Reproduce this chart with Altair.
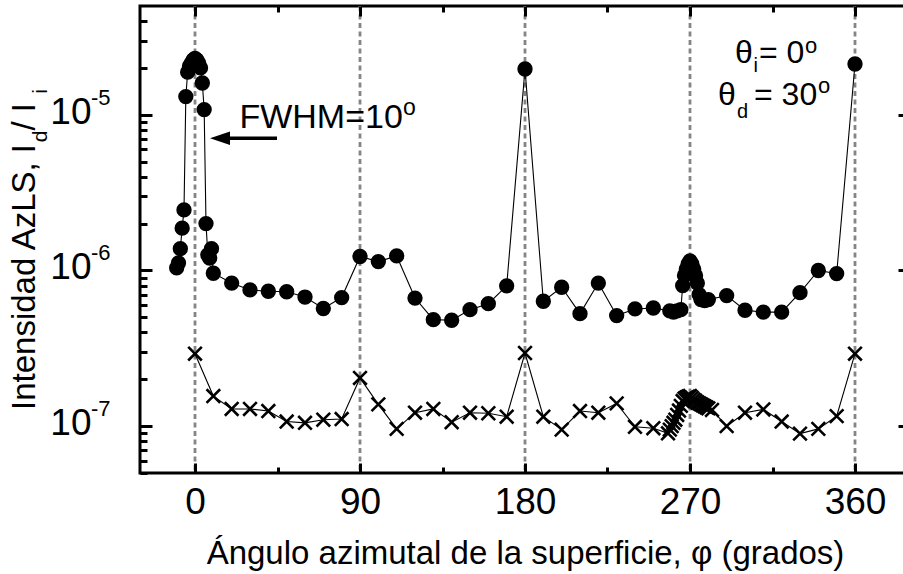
import altair as alt
import pandas as pd

# ---------------- data ----------------
circ_phi = [-10, -9, -8, -7, -6, -5, -4, -3, -2, -1, 0, 1, 2, 3, 4, 5, 6, 7, 8, 9, 10,
            20, 30, 40, 50, 60, 70, 80, 90, 100, 110, 120, 130, 140, 150, 160, 170,
            180, 190, 200, 210, 220, 230, 240, 250,
            259, 261, 263, 265, 266, 267, 268, 269, 270, 271, 272, 273, 274, 275, 276, 278, 280,
            290, 300, 310, 320, 330, 340, 350, 360]
circ_int = [1.04e-6, 1.12e-6, 1.38e-6, 1.87e-6, 2.45e-6, 1.31e-5, 1.88e-5, 2.05e-5, 2.15e-5, 2.25e-5,
            2.3e-5, 2.25e-5, 2.15e-5, 2.0e-5, 1.6e-5, 1.08e-5, 2.0e-6, 1.26e-6, 1.2e-6, 1.38e-6, 9.6e-7,
            8.3e-7, 7.5e-7, 7.35e-7, 7.3e-7, 6.75e-7, 5.7e-7, 6.7e-7, 1.23e-6, 1.14e-6, 1.24e-6,
            6.65e-7, 4.83e-7, 4.79e-7, 5.6e-7, 6.12e-7, 7.97e-7,
            1.97e-5, 6.34e-7, 7.8e-7, 5.28e-7, 8.3e-7, 5.13e-7, 5.66e-7, 5.74e-7,
            5.5e-7, 5.4e-7, 5.5e-7, 5.6e-7, 8.0e-7, 9.3e-7, 1.02e-6, 1.1e-6, 1.15e-6, 1.1e-6,
            1.02e-6, 9.3e-7, 8.3e-7, 7.0e-7, 6.5e-7, 6.4e-7, 6.5e-7,
            6.9e-7, 5.55e-7, 5.4e-7, 5.4e-7, 7.2e-7, 1.0e-6, 9.55e-7, 2.12e-5]

cross_phi = [0, 10, 20, 30, 40, 50, 60, 70, 80, 90, 100, 110, 120, 130, 140, 150, 160, 170,
             180, 190, 200, 210, 220, 230, 240, 250,
             258, 259, 260, 261, 262, 263, 264, 265, 266, 267, 268, 269, 270, 271, 272, 273,
             274, 275, 276, 277, 278, 279, 280, 282,
             290, 300, 310, 320, 330, 340, 350, 360]
cross_int = [2.92e-7, 1.56e-7, 1.29e-7, 1.29e-7, 1.25e-7, 1.07e-7, 1.05e-7, 1.1e-7, 1.11e-7,
             2.04e-7, 1.38e-7, 9.6e-8, 1.22e-7, 1.29e-7, 1.06e-7, 1.22e-7, 1.21e-7, 1.15e-7,
             2.95e-7, 1.15e-7, 9.5e-8, 1.25e-7, 1.22e-7, 1.4e-7, 9.9e-8, 9.7e-8,
             9.0e-8, 9.5e-8, 1.0e-7, 1.05e-7, 1.1e-7, 1.18e-7, 1.26e-7, 1.35e-7, 1.45e-7,
             1.5e-7, 1.53e-7, 1.55e-7, 1.56e-7, 1.52e-7, 1.48e-7, 1.45e-7,
             1.42e-7, 1.4e-7, 1.38e-7, 1.36e-7, 1.34e-7, 1.32e-7, 1.3e-7, 1.27e-7,
             1.0e-7, 1.22e-7, 1.28e-7, 1.07e-7, 8.95e-8, 9.6e-8, 1.16e-7, 2.92e-7]

guide_phi = [0, 90, 180, 270, 360]
x_major = [0, 90, 180, 270, 360]
x_minor = [45, 135, 225, 315]
y_major = [1e-7, 1e-6, 1e-5]
y_minor = [5e-8, 6e-8, 7e-8, 8e-8, 9e-8,
           2e-7, 3e-7, 4e-7, 5e-7, 6e-7, 7e-7, 8e-7, 9e-7,
           2e-6, 3e-6, 4e-6, 5e-6, 6e-6, 7e-6, 8e-6, 9e-6,
           2e-5, 3e-5, 4e-5]
y_label_exp = ["-7", "-6", "-5"]

x_title = "Ángulo azimutal de la superficie, φ (grados)"

# ---------------- layout ----------------
W, H = 770, 467
FONT = "Liberation Sans, Arial, Helvetica, sans-serif"

xscale = alt.Scale(domain=[-30, 390], nice=False, zero=False)
yscale = alt.Scale(type="log", domain=[5e-8, 5e-5], nice=False)

df_c = pd.DataFrame({"phi": circ_phi, "I": circ_int})
df_x = pd.DataFrame({"phi": cross_phi, "I": cross_int})
df_g = pd.DataFrame({"phi": guide_phi})
df_yl = pd.DataFrame({"v": y_major, "exp": y_label_exp})


def tick_axis(orient, offset, values, size):
    return alt.Axis(orient=orient, offset=offset, values=values, tickSize=size,
                    tickWidth=3, tickColor="black", labels=False, domain=False,
                    grid=False, title=None, zindex=1)


guides = alt.Chart(df_g).mark_rule(color="#858585", strokeWidth=2.8, strokeDash=[5, 3.5]).encode(
    x=alt.X("phi:Q", scale=xscale,
            axis=alt.Axis(orient="bottom", values=x_major, tickSize=0, domain=False, grid=False,
                          labelFont=FONT, labelFontSize=37, labelColor="black", labelPadding=11,
                          labelFlush=False, labelOverlap=False,
                          title=x_title, titleFont=FONT, titleFontSize=33, titleFontWeight="normal",
                          titleColor="black", titleBaseline="alphabetic", titleY=90))
)

circ_line = alt.Chart(df_c).mark_line(color="black", strokeWidth=1.1).encode(
    x=alt.X("phi:Q", scale=xscale, axis=tick_axis("top", -H, x_major, 10)),
    y=alt.Y("I:Q", scale=yscale, axis=tick_axis("right", -W, y_major, 12)),
)
circ_pts = alt.Chart(df_c).mark_point(shape="circle", filled=True, size=235, color="black",
                                      opacity=1, strokeWidth=0).encode(
    x=alt.X("phi:Q", scale=xscale, axis=tick_axis("top", -H, x_minor, 6)),
    y=alt.Y("I:Q", scale=yscale, axis=tick_axis("right", -W, y_minor, 7)),
)
cross_line = alt.Chart(df_x).mark_line(color="black", strokeWidth=1.1).encode(
    x=alt.X("phi:Q", scale=xscale, axis=tick_axis("bottom", -H, x_major, 10)),
    y=alt.Y("I:Q", scale=yscale, axis=tick_axis("left", -W, y_major, 12)),
)
cross_pts = alt.Chart(df_x).mark_point(shape="M-1,-1L1,1M-1,1L1,-1", filled=False, size=185,
                                       color="black", opacity=1, strokeWidth=2.6).encode(
    x=alt.X("phi:Q", scale=xscale, axis=tick_axis("bottom", -H, x_minor, 6)),
    y=alt.Y("I:Q", scale=yscale, axis=tick_axis("left", -W, y_minor, 7)),
)

ylab_base = alt.Chart(df_yl).mark_text(text="10", font=FONT, fontSize=37, align="right",
                                       baseline="alphabetic", dy=9, color="black").encode(
    y=alt.Y("v:Q", scale=yscale, axis=None), x=alt.value(-48.5))
ylab_exp = alt.Chart(df_yl).mark_text(font=FONT, fontSize=22, align="left",
                                      baseline="alphabetic", dy=-10, color="black").encode(
    y=alt.Y("v:Q", scale=yscale, axis=None), x=alt.value(-49), text="exp:N")


def txt(s, x, y, size, angle=0):
    return alt.Chart(pd.DataFrame({"t": [s]})).mark_text(
        font=FONT, fontSize=size, align="left", baseline="alphabetic", angle=angle,
        color="black").encode(x=alt.value(x), y=alt.value(y), text="t:N")


annots = [
    # y-axis title (rotated, with subscripts)
    txt("Intensidad AzLS, I", -105, 404, 33, 270),
    txt("d", -93, 136.2, 21, 270),
    txt(" / I", -105, 124.5, 33, 270),
    txt("i", -93, 87.8, 21, 270),
    # FWHM annotation
    txt("FWHM=10", 99.4, 122.3, 34),
    txt("o", 263, 109, 23),
    # theta labels
    txt("θ", 595, 57, 32), txt("i", 613.5, 66, 20), txt("= 0", 619, 57, 32), txt("o", 665, 47, 22),
    txt("θ", 578, 99, 32), txt("d", 597, 112, 20), txt("= 30", 614, 99, 32), txt("o", 678, 87, 22),
]

arrow_line = alt.Chart(pd.DataFrame({"a": [0]})).mark_rule(color="black", strokeWidth=3.5).encode(
    x=alt.value(82), x2=alt.value(137), y=alt.value(132.3))
arrow_head = alt.Chart(pd.DataFrame({"a": [0]})).mark_point(
    shape="M0,0L2,-0.67L2,0.67Z", filled=True, size=400, color="black", opacity=1, strokeWidth=0
).encode(x=alt.value(70), y=alt.value(132.3))

chart = alt.layer(
    guides, circ_line, cross_line, circ_pts, cross_pts, ylab_base, ylab_exp,
    arrow_line, arrow_head, *annots
).resolve_axis(x="independent", y="independent").properties(
    width=W, height=H,
    padding={"left": 140, "top": 6, "right": -7, "bottom": 101},
    autosize=alt.AutoSizeParams(type="none"),
    background="white",
).configure_view(stroke="black", strokeWidth=3)

chart.save("out.html", embed_options={"renderer": "svg", "actions": False})
